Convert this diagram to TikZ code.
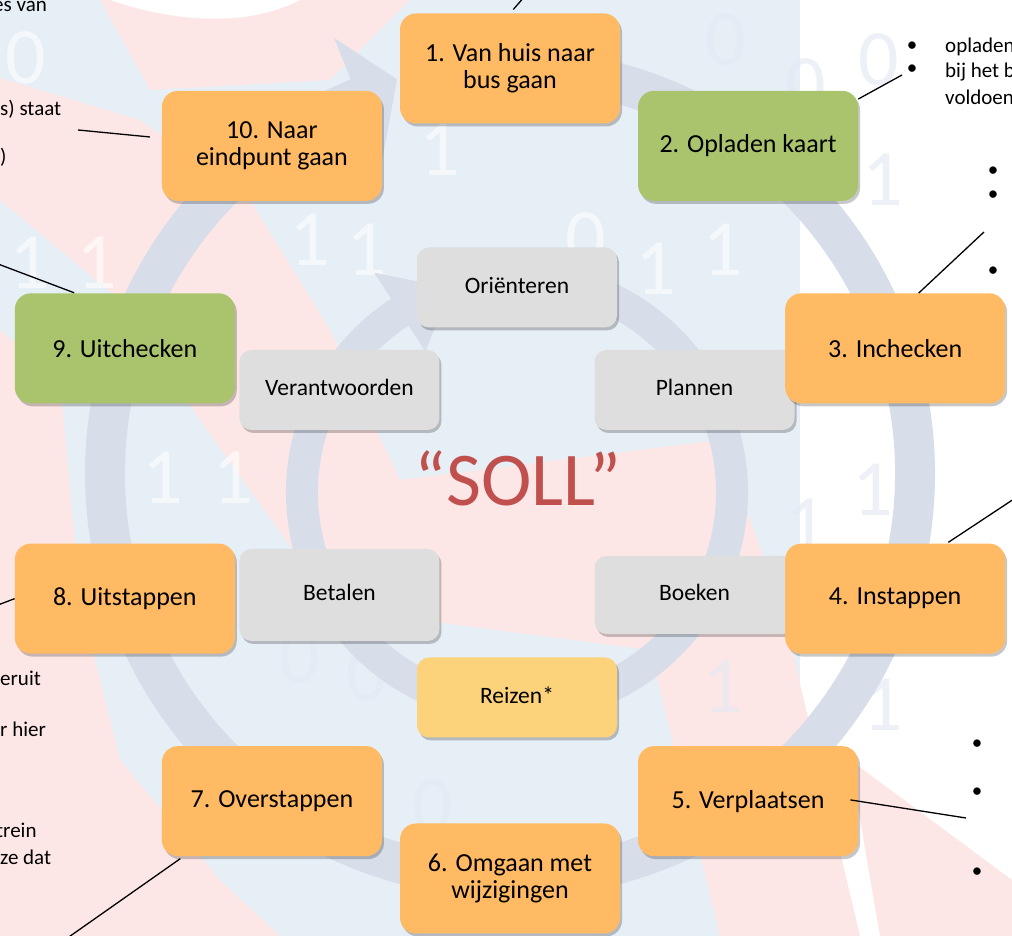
\documentclass[tikz,border=0pt]{standalone}
\usepackage{fontspec}
\setmainfont{Carlito}
\usetikzlibrary{shadows}
\definecolor{sollOrange}{HTML}{FFBA63}
\definecolor{sollGreen}{HTML}{A9C46C}
\definecolor{sollGrey}{HTML}{DEDEDE}
\definecolor{sollYellow}{HTML}{FCD37B}
\definecolor{sollRing}{HTML}{D7DEEA}
\definecolor{sollPink}{HTML}{FDE7E6}
\definecolor{sollBlue}{HTML}{E6EEF6}
\definecolor{sollDigit}{HTML}{E2E9F3}
\definecolor{sollRed}{HTML}{C0504D}
\tikzset{
  soll shadow/.style={drop shadow={shadow xshift=2pt, shadow yshift=-3pt, opacity=0.22, fill=black}},
  soll step/.style={rounded corners=16pt, fill=sollOrange, minimum width=220pt, minimum height=110pt,
    align=center, inner sep=2pt, font=\fontsize{26}{27}\selectfont, soll shadow},
  soll phase/.style={rounded corners=12pt, fill=sollGrey, minimum width=200pt, minimum height=80pt,
    text height=16pt, text depth=4pt, inner sep=2pt, font=\fontsize{23.5}{26}\selectfont, soll shadow},
  soll leader/.style={draw=black, line width=1.3pt},
  soll note/.style={font=\fontsize{21}{24}\selectfont, anchor=base west, inner sep=0pt},
  soll digit/.style={font=\fontsize{80}{80}\selectfont, inner sep=0pt, text opacity=0.6},
}

\begin{document}
\begin{tikzpicture}[x=1pt,y=1pt]
  \useasboundingbox (0,0) rectangle (1012,936);
  \clip (0,0) rectangle (1012,936);
  % background of the slide, measured from the top
  \begin{scope}[shift={(0,936)}, yscale=-1]
    \fill[white] (0,0) rectangle (1012,936);
    \fill[sollBlue] (0,0) rectangle (800,936);
    \fill[sollPink] (0,78) -- (140,120) -- (250,200) -- (330,330) -- (400,480) -- (560,460) -- (720,440)
      -- (780,600) -- (860,936) -- (720,936) -- (650,650) -- (420,620) -- (300,560) -- (200,420)
      -- (120,300) -- (0,200) -- cycle;
    \fill[sollPink] (0,330) -- (60,380) -- (80,600) -- (120,760) -- (220,880) -- (280,936) -- (0,936) -- cycle;
    \fill[sollPink] (100,0) -- (410,0) -- (330,80) -- (150,90) -- cycle;
    \fill[white] (110,0) .. controls (180,24) and (250,26) .. (300,0) -- cycle;
    \fill[sollPink] (850,760) -- (1012,880) -- (1012,936) -- (880,936) -- cycle;
    % binary digits
    \foreach \x/\y/\d in {26/58/0, 30/263/1, 97/263/1, 163/478/1, 233/478/1, 310/240/1, 367/250/1,
        440/150/1, 586/239/0, 656/269/1, 723/250/1}
      \node[soll digit, text=white] at (\x,\y) {\d};
    \foreach \x/\y/\d in {726/40/0, 879/60/0, 806/85/0, 883/180/1, 816/358/1, 873/490/1, 806/525/1,
        723/687/1, 883/705/1, 300/657/0, 367/675/0, 433/806/0}
      \node[soll digit, text=sollDigit] at (\x,\y) {\d};
  \end{scope}

  % outer cycle with its arrow head
  \coordinate (ringc) at (510,462.5);
  \fill[sollRing] ([shift={(95:425)}]ringc) arc[start angle=95, end angle=-248, radius=425]
    -- ([shift={(112:470)}]ringc) -- ([shift={(106:410)}]ringc) -- ([shift={(112:340)}]ringc)
    -- ([shift={(112:385)}]ringc) arc[start angle=-248, end angle=95, radius=385] -- cycle;
  % inner cycle with its arrow head
  \coordinate (phasec) at (517,443.5);
  \fill[sollRing] ([shift={(80:231)}]phasec) arc[start angle=80, end angle=-237, radius=231]
    -- ([shift={(123:262)}]phasec) -- ([shift={(108:215)}]phasec) -- ([shift={(123:168)}]phasec)
    -- ([shift={(123:199)}]phasec) arc[start angle=-237, end angle=80, radius=199] -- cycle;

  % phases of the inner cycle
  \foreach \ang/\name/\txt/\col/\hgt in {90/ori/Oriënteren/sollGrey/80, 30/pla/Plannen/sollGrey/80,
      -30/boe/Boeken/sollGrey/78, -90/rei/Reizen*/sollYellow/80, -150/bet/Betalen/sollGrey/92,
      150/ver/Verantwoorden/sollGrey/80}
    \node[soll phase, fill=\col, minimum height=\hgt pt] (\name) at ([shift={(\ang:205)}]phasec) {\txt};

  \node[text=sollRed, font=\fontsize{76}{80}\selectfont] (soll) at (518,458) {“SOLL”};

  % the ten steps of the journey
  \foreach \i/\txt/\col in {1/{1. Van huis naar\\bus gaan}/sollOrange, 2/{2. Opladen kaart}/sollGreen,
      3/{3. Inchecken}/sollOrange, 4/{4. Instappen}/sollOrange, 5/{5. Verplaatsen}/sollOrange,
      6/{6. Omgaan met\\wijzigingen}/sollOrange, 7/{7. Overstappen}/sollOrange,
      8/{8. Uitstappen}/sollOrange, 9/{9. Uitchecken}/sollGreen, 10/{10. Naar\\eindpunt gaan}/sollOrange}
  {
    \pgfmathsetmacro\ang{90-36*(\i-1)}
    \node[soll step, fill=\col] (s\i) at ([shift={(\ang:405)}]ringc) {\txt};
  }

  % loose ends of the leaders
  \coordinate (e1) at (525,940);
  \coordinate (e2) at (902,861);
  \coordinate (e3) at (984,704);
  \coordinate (e4) at (1020,441);
  \coordinate (e5) at (966,118);
  \coordinate (e7) at (66,-3);
  \coordinate (e8) at (-2,331);
  \coordinate (e9) at (-2,672);
  \coordinate (e10) at (78,806);
  \draw[soll leader, shorten <=5pt] (s1.north) -- (e1);
  \draw[soll leader] (s2.23) -- (e2);
  \draw[soll leader] (s3.67) -- (e3);
  \draw[soll leader, shorten <=2pt] (s4.47) -- (e4);
  \draw[soll leader, shorten <=-8pt] (s5.east) -- (e5);
  \draw[soll leader, shorten <=4pt] (s7.212) -- (e7);
  \draw[soll leader] (s8.west) -- (e8);
  \draw[soll leader, shorten <=1pt] (s9.132) -- (e9);
  \draw[soll leader, shorten <=12pt] (s10.176) -- (e10);

  % notes cut off by the edge of the slide
  \foreach \x/\y/\txt in {-7/924/es van, 0/820/s) staat, 0/772/), 0/250/eruit, 0/199/r hier,
      -4/98/trein, 0/71/ze dat}
    \node[soll note] at (\x,\y) {\txt};
  \foreach \y/\txt in {883/opladen, 858/bij het b, 831/voldoen}
    \node[soll note] at (945,\y) {\txt};
  \foreach \x/\y in {912/889, 912/866, 993/764, 993/740, 993/664, 977/191, 977/143, 977/63}
    \node[font=\fontsize{21}{24}\selectfont, inner sep=0pt] at (\x,\y) {\textbullet};
\end{tikzpicture}
\end{document}
